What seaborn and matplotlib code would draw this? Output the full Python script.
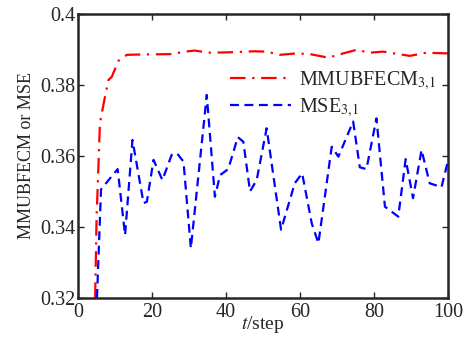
import matplotlib
matplotlib.use("Agg")
import matplotlib.pyplot as plt
import seaborn as sns
import pandas as pd

# MMUBFECM_{3,1} curve
t_mm = [4.6, 5.0, 5.3, 5.9, 7.1, 8.2, 9.1, 10.9, 13.2, 17.2, 25.3, 28.9, 31.6, 35.2,
        40.6, 47.8, 51.0, 54.6, 59.1, 62.7, 67.7, 71.7, 75.3, 78.9, 82.5, 89.7,
        94.2, 100.0]
v_mm = [0.320, 0.343, 0.3514, 0.3692, 0.3758, 0.3814, 0.3823, 0.3868, 0.3885,
        0.3886, 0.3887, 0.3894, 0.3897, 0.3891, 0.3892, 0.3895, 0.3894, 0.3885,
        0.3889, 0.3887, 0.3877, 0.3889, 0.3899, 0.3891, 0.3894, 0.3882, 0.3891,
        0.3889]

# MSE_{3,1} curve
t_mse = [5.1, 6.2, 10.7, 12.7, 14.7, 17.7, 18.6, 20.4, 22.8, 25.3, 26.7, 28.5,
         30.5, 34.8, 37.0, 38.4, 40.6, 43.2, 44.7, 46.5, 48.3, 51.0, 54.9, 58.6,
         60.6, 63.2, 65.0, 68.6, 70.4, 74.4, 76.2, 78.0, 80.7, 83.0, 86.6, 88.6,
         90.6, 92.9, 95.1, 98.3, 100.0]
v_mse = [0.320, 0.3506, 0.3563, 0.3377, 0.3645, 0.3467, 0.3471, 0.3589, 0.3532,
         0.3603, 0.3608, 0.3584, 0.3340, 0.3772, 0.3485, 0.3546, 0.3563, 0.3653,
         0.3640, 0.3500, 0.3532, 0.3678, 0.3392, 0.3523, 0.3551, 0.3410, 0.3354,
         0.3626, 0.3598, 0.3697, 0.3568, 0.3563, 0.3706, 0.3457, 0.3429, 0.3591,
         0.3481, 0.3617, 0.3523, 0.3512, 0.3584]

x_ticks = [0, 20, 40, 60, 80, 100]
y_ticks = [0.32, 0.34, 0.36, 0.38, 0.40]
y_tick_labels = ["0.32", "0.34", "0.36", "0.38", "0.4"]

sns.set_style("ticks")
plt.rcParams["font.family"] = ["Liberation Serif", "DejaVu Serif"]
plt.rcParams["mathtext.fontset"] = "stix"
plt.rcParams["xtick.direction"] = "in"
plt.rcParams["ytick.direction"] = "in"

df_mm = pd.DataFrame({"t": t_mm, "v": v_mm})
df_mse = pd.DataFrame({"t": t_mse, "v": v_mse})

fig = plt.figure(figsize=(4.65, 3.42), dpi=100)
ax = fig.add_axes([0.168, 0.129, 0.795, 0.830])

sns.lineplot(data=df_mm, x="t", y="v", ax=ax, color="#ff0000", lw=1.6,
             linestyle=(0, (7, 3, 1, 3)), label=r"MMUBFECM$_{\mathrm{3{,}1}}$", sort=False)
sns.lineplot(data=df_mse, x="t", y="v", ax=ax, color="#0000ff", lw=1.6,
             linestyle=(0, (4, 2.5)), label=r"MSE$_{\mathrm{3{,}1}}$", sort=False)

ax.set_xlim(0, 100)
ax.set_ylim(0.32, 0.40)
ax.set_xticks(x_ticks)
ax.set_xticklabels([str(v) for v in x_ticks])
ax.set_yticks(y_ticks)
ax.set_yticklabels(y_tick_labels)
ax.tick_params(axis="both", which="both", top=True, right=True, length=4,
               width=1, labelsize=14.5)
ax.tick_params(axis="x", pad=4)
ax.tick_params(axis="y", pad=2)
for s in ax.spines.values():
    s.set_linewidth(1.8)
    s.set_visible(True)

ax.set_xlabel(r"$t$/step", fontsize=14, labelpad=-6)
ax.set_ylabel("MMUBFECM or MSE", fontsize=13, labelpad=4)

ax.legend(loc="upper right", bbox_to_anchor=(1.0, 0.85), frameon=False,
          fontsize=14.5, handlelength=3.0, handletextpad=0.4, labelspacing=0.25,
          borderaxespad=0.2)

fig.savefig("out.png", dpi=100)
